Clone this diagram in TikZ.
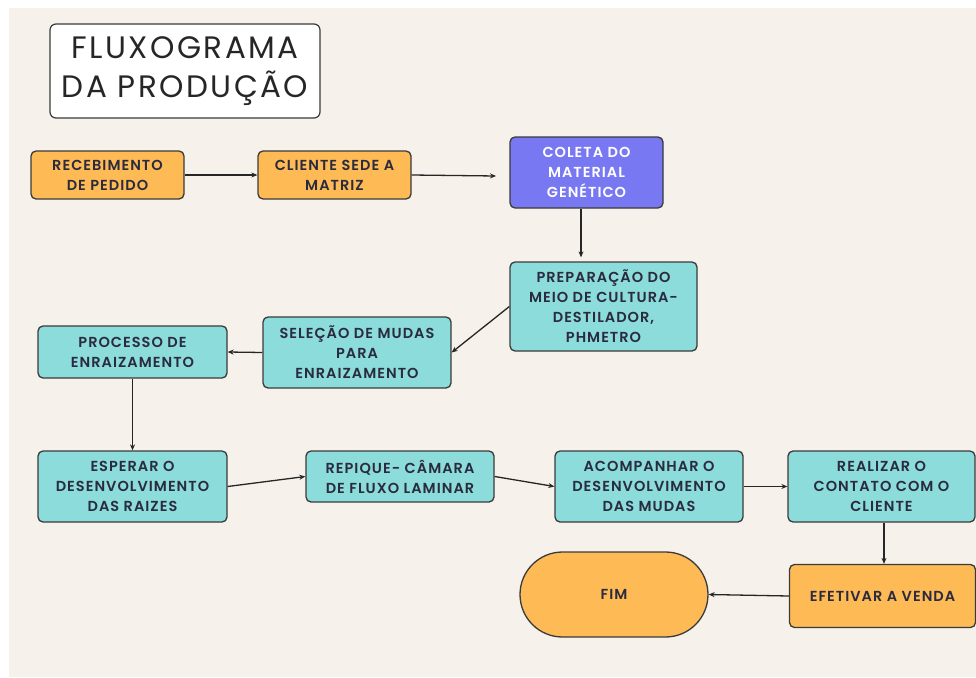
\documentclass[tikz,border=0pt]{standalone}
\usepackage{fontspec}
\setmainfont{Poppins}
\usetikzlibrary{arrows.meta,shapes.misc}
\definecolor{bgbeige}{HTML}{F6F2EB}
\definecolor{orangebox}{HTML}{FDBA55}
\definecolor{tealbox}{HTML}{8BDCDA}
\definecolor{purplebox}{HTML}{7878F2}
\definecolor{txtdark}{HTML}{2B2B3F}
\definecolor{edgegray}{HTML}{3A3A3A}
\newfontfamily\boxfont[LetterSpace=7]{Poppins SemiBold}
\newfontfamily\titlefont[LetterSpace=8]{Poppins}
\begin{document}
\begin{tikzpicture}[x=1pt,y=-1pt,
  boxbase/.style={draw=edgegray,line width=1.3pt,rounded corners=5pt,align=center,
    font=\boxfont\fontsize{14.5}{20}\selectfont,text=txtdark,inner sep=0pt},
  orangestep/.style={boxbase,fill=orangebox},
  tealstep/.style={boxbase,fill=tealbox},
  purplestep/.style={boxbase,fill=purplebox,text=white},
  conn/.style={draw=black!85,line width=1.3pt,-{Stealth[length=6pt,width=5pt]}}]
\useasboundingbox (0,0) rectangle (976,677);
\fill[white] (0,0) rectangle (976,677);
\fill[bgbeige] (9,8) rectangle (976,677);
% title
\node[draw=edgegray,line width=1.2pt,rounded corners=6pt,fill=white,minimum width=270pt,minimum height=94pt,
  align=center,font=\titlefont\fontsize{31}{39}\selectfont,text=black!85] (title) at (185,71) {FLUXOGRAMA\\DA PRODUÇÃO};
% boxes
\node[orangestep,minimum width=153pt,minimum height=48pt] (receb) at (107.5,175) {RECEBIMENTO\\DE PEDIDO};
\node[orangestep,minimum width=153pt,minimum height=48pt] (cliente) at (334.5,175) {CLIENTE SEDE A\\MATRIZ};
\node[purplestep,minimum width=153pt,minimum height=71pt] (coleta) at (586.5,172.5) {COLETA DO\\MATERIAL\\GENÉTICO};
\node[tealstep,minimum width=187pt,minimum height=89pt] (prep) at (603.5,306.5) {PREPARAÇÃO DO\\MEIO DE CULTURA-\\DESTILADOR,\\PHMETRO};
\node[tealstep,minimum width=188pt,minimum height=71pt] (selec) at (357,352.5) {SELEÇÃO DE MUDAS\\PARA\\ENRAIZAMENTO};
\node[tealstep,minimum width=189pt,minimum height=52pt] (proc) at (132.5,352) {PROCESSO DE\\ENRAIZAMENTO};
\node[tealstep,minimum width=189pt,minimum height=71pt] (esperar) at (132.5,486.5) {ESPERAR O\\DESENVOLVIMENTO\\DAS RAIZES};
\node[tealstep,minimum width=188pt,minimum height=51pt] (repique) at (400,476.5) {REPIQUE- CÂMARA\\DE FLUXO LAMINAR};
\node[tealstep,minimum width=188pt,minimum height=71pt] (acomp) at (649,486.5) {ACOMPANHAR O\\DESENVOLVIMENTO\\DAS MUDAS};
\node[tealstep,minimum width=187pt,minimum height=71pt] (realizar) at (881.5,486.5) {REALIZAR O\\CONTATO COM O\\CLIENTE};
\node[orangestep,minimum width=186pt,minimum height=63pt] (efetivar) at (882.5,596) {EFETIVAR A VENDA};
\node[draw=edgegray,line width=1.3pt,fill=orangebox,rounded rectangle,minimum width=188pt,minimum height=85pt,
  font=\boxfont\fontsize{14.5}{20}\selectfont,text=txtdark,inner sep=0pt] (fim) at (614,594.5) {FIM};
% connectors
\draw[conn] (receb.east) -- (cliente.west);
\coordinate (colin) at (496,176);
\draw[conn] (cliente.east) -- (colin);
\draw[conn,shorten >=4pt] (coleta.south -| 581,0) -- (prep.north -| 581,0);
\draw[conn] (prep.west) -- (selec.east);
\draw[conn] (selec.west) -- (proc.east);
\draw[conn] (proc.south) -- (esperar.north);
\draw[conn] (esperar.east) -- (repique.west);
\draw[conn] (repique.east) -- (acomp.west);
\draw[conn] (acomp.east) -- (realizar.west);
\draw[conn] (realizar.south -| 884,0) -- (efetivar.north -| 884,0);
\draw[conn] (efetivar.west) -- (fim.east);
\end{tikzpicture}
\end{document}
